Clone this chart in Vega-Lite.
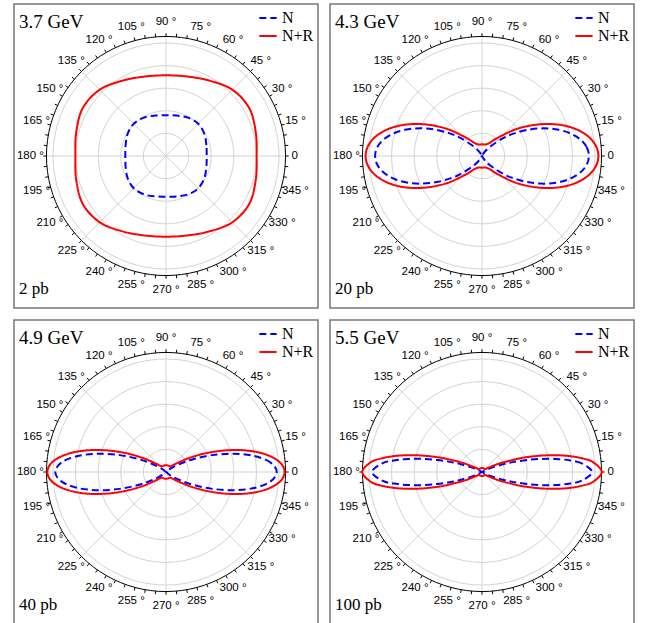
{
"$schema": "https://vega.github.io/schema/vega-lite/v6.json",
"padding": {"left": 13, "top": 3, "right": 0, "bottom": 0},
"config": {"view": {"stroke": "#777777", "strokeWidth": 1.5}, "font": "Liberation Sans"},
"datasets": {
"rings": [
{"ring":1,"x":1,"y":0},{"ring":1,"x":0.966,"y":0.259},{"ring":1,"x":0.866,"y":0.5},{"ring":1,"x":0.707,"y":0.707},{"ring":1,"x":0.5,"y":0.866},{"ring":1,"x":0.259,"y":0.966},{"ring":1,"x":0,"y":1},{"ring":1,"x":-0.259,"y":0.966},{"ring":1,"x":-0.5,"y":0.866},{"ring":1,"x":-0.707,"y":0.707},{"ring":1,"x":-0.866,"y":0.5},{"ring":1,"x":-0.966,"y":0.259},{"ring":1,"x":-1,"y":0},{"ring":1,"x":-0.966,"y":-0.259},{"ring":1,"x":-0.866,"y":-0.5},{"ring":1,"x":-0.707,"y":-0.707},{"ring":1,"x":-0.5,"y":-0.866},{"ring":1,"x":-0.259,"y":-0.966},{"ring":1,"x":0,"y":-1},{"ring":1,"x":0.259,"y":-0.966},{"ring":1,"x":0.5,"y":-0.866},{"ring":1,"x":0.707,"y":-0.707},{"ring":1,"x":0.866,"y":-0.5},{"ring":1,"x":0.966,"y":-0.259},
{"ring":2,"x":2,"y":0},{"ring":2,"x":1.932,"y":0.518},{"ring":2,"x":1.732,"y":1},{"ring":2,"x":1.414,"y":1.414},{"ring":2,"x":1,"y":1.732},{"ring":2,"x":0.518,"y":1.932},{"ring":2,"x":0,"y":2},{"ring":2,"x":-0.518,"y":1.932},{"ring":2,"x":-1,"y":1.732},{"ring":2,"x":-1.414,"y":1.414},{"ring":2,"x":-1.732,"y":1},{"ring":2,"x":-1.932,"y":0.518},{"ring":2,"x":-2,"y":0},{"ring":2,"x":-1.932,"y":-0.518},{"ring":2,"x":-1.732,"y":-1},{"ring":2,"x":-1.414,"y":-1.414},{"ring":2,"x":-1,"y":-1.732},{"ring":2,"x":-0.518,"y":-1.932},{"ring":2,"x":0,"y":-2},{"ring":2,"x":0.518,"y":-1.932},{"ring":2,"x":1,"y":-1.732},{"ring":2,"x":1.414,"y":-1.414},{"ring":2,"x":1.732,"y":-1},{"ring":2,"x":1.932,"y":-0.518},
{"ring":3,"x":3,"y":0},{"ring":3,"x":2.898,"y":0.776},{"ring":3,"x":2.598,"y":1.5},{"ring":3,"x":2.121,"y":2.121},{"ring":3,"x":1.5,"y":2.598},{"ring":3,"x":0.776,"y":2.898},{"ring":3,"x":0,"y":3},{"ring":3,"x":-0.776,"y":2.898},{"ring":3,"x":-1.5,"y":2.598},{"ring":3,"x":-2.121,"y":2.121},{"ring":3,"x":-2.598,"y":1.5},{"ring":3,"x":-2.898,"y":0.776},{"ring":3,"x":-3,"y":0},{"ring":3,"x":-2.898,"y":-0.776},{"ring":3,"x":-2.598,"y":-1.5},{"ring":3,"x":-2.121,"y":-2.121},{"ring":3,"x":-1.5,"y":-2.598},{"ring":3,"x":-0.776,"y":-2.898},{"ring":3,"x":0,"y":-3},{"ring":3,"x":0.776,"y":-2.898},{"ring":3,"x":1.5,"y":-2.598},{"ring":3,"x":2.121,"y":-2.121},{"ring":3,"x":2.598,"y":-1.5},{"ring":3,"x":2.898,"y":-0.776},
{"ring":4,"x":4,"y":0},{"ring":4,"x":3.864,"y":1.035},{"ring":4,"x":3.464,"y":2},{"ring":4,"x":2.828,"y":2.828},{"ring":4,"x":2,"y":3.464},{"ring":4,"x":1.035,"y":3.864},{"ring":4,"x":0,"y":4},{"ring":4,"x":-1.035,"y":3.864},{"ring":4,"x":-2,"y":3.464},{"ring":4,"x":-2.828,"y":2.828},{"ring":4,"x":-3.464,"y":2},{"ring":4,"x":-3.864,"y":1.035},{"ring":4,"x":-4,"y":0},{"ring":4,"x":-3.864,"y":-1.035},{"ring":4,"x":-3.464,"y":-2},{"ring":4,"x":-2.828,"y":-2.828},{"ring":4,"x":-2,"y":-3.464},{"ring":4,"x":-1.035,"y":-3.864},{"ring":4,"x":0,"y":-4},{"ring":4,"x":1.035,"y":-3.864},{"ring":4,"x":2,"y":-3.464},{"ring":4,"x":2.828,"y":-2.828},{"ring":4,"x":3.464,"y":-2},{"ring":4,"x":3.864,"y":-1.035},
{"ring":5,"x":5,"y":0},{"ring":5,"x":4.83,"y":1.294},{"ring":5,"x":4.33,"y":2.5},{"ring":5,"x":3.536,"y":3.536},{"ring":5,"x":2.5,"y":4.33},{"ring":5,"x":1.294,"y":4.83},{"ring":5,"x":0,"y":5},{"ring":5,"x":-1.294,"y":4.83},{"ring":5,"x":-2.5,"y":4.33},{"ring":5,"x":-3.536,"y":3.536},{"ring":5,"x":-4.33,"y":2.5},{"ring":5,"x":-4.83,"y":1.294},{"ring":5,"x":-5,"y":0},{"ring":5,"x":-4.83,"y":-1.294},{"ring":5,"x":-4.33,"y":-2.5},{"ring":5,"x":-3.536,"y":-3.536},{"ring":5,"x":-2.5,"y":-4.33},{"ring":5,"x":-1.294,"y":-4.83},{"ring":5,"x":0,"y":-5},{"ring":5,"x":1.294,"y":-4.83},{"ring":5,"x":2.5,"y":-4.33},{"ring":5,"x":3.536,"y":-3.536},{"ring":5,"x":4.33,"y":-2.5},{"ring":5,"x":4.83,"y":-1.294}
],
"outer": [{"x":5.29,"y":0},{"x":5.11,"y":1.369},{"x":4.581,"y":2.645},{"x":3.741,"y":3.741},{"x":2.645,"y":4.581},{"x":1.369,"y":5.11},{"x":0,"y":5.29},{"x":-1.369,"y":5.11},{"x":-2.645,"y":4.581},{"x":-3.741,"y":3.741},{"x":-4.581,"y":2.645},{"x":-5.11,"y":1.369},{"x":-5.29,"y":0},{"x":-5.11,"y":-1.369},{"x":-4.581,"y":-2.645},{"x":-3.741,"y":-3.741},{"x":-2.645,"y":-4.581},{"x":-1.369,"y":-5.11},{"x":0,"y":-5.29},{"x":1.369,"y":-5.11},{"x":2.645,"y":-4.581},{"x":3.741,"y":-3.741},{"x":4.581,"y":-2.645},{"x":5.11,"y":-1.369}],
"spokes": [{"x":-5.29,"y":0,"x2":5.29,"y2":0},{"x":0,"y":-5.29,"x2":0,"y2":5.29},{"x":-3.741,"y":-3.741,"x2":3.741,"y2":3.741},{"x":-3.741,"y":3.741,"x2":3.741,"y2":-3.741}],
"ticks": [
{"x":5.29,"y":0,"x2":5.43,"y2":0},{"x":5.27,"y":0.461,"x2":5.409,"y2":0.473},{"x":5.21,"y":0.919,"x2":5.348,"y2":0.943},{"x":5.11,"y":1.369,"x2":5.245,"y2":1.405},{"x":4.971,"y":1.809,"x2":5.103,"y2":1.857},{"x":4.794,"y":2.236,"x2":4.921,"y2":2.295},{"x":4.581,"y":2.645,"x2":4.703,"y2":2.715},{"x":4.333,"y":3.034,"x2":4.448,"y2":3.115},{"x":4.052,"y":3.4,"x2":4.16,"y2":3.49},{"x":3.741,"y":3.741,"x2":3.84,"y2":3.84},{"x":3.4,"y":4.052,"x2":3.49,"y2":4.16},{"x":3.034,"y":4.333,"x2":3.115,"y2":4.448},{"x":2.645,"y":4.581,"x2":2.715,"y2":4.703},{"x":2.236,"y":4.794,"x2":2.295,"y2":4.921},{"x":1.809,"y":4.971,"x2":1.857,"y2":5.103},{"x":1.369,"y":5.11,"x2":1.405,"y2":5.245},{"x":0.919,"y":5.21,"x2":0.943,"y2":5.348},{"x":0.461,"y":5.27,"x2":0.473,"y2":5.409},
{"x":0,"y":5.29,"x2":0,"y2":5.43},{"x":-0.461,"y":5.27,"x2":-0.473,"y2":5.409},{"x":-0.919,"y":5.21,"x2":-0.943,"y2":5.348},{"x":-1.369,"y":5.11,"x2":-1.405,"y2":5.245},{"x":-1.809,"y":4.971,"x2":-1.857,"y2":5.103},{"x":-2.236,"y":4.794,"x2":-2.295,"y2":4.921},{"x":-2.645,"y":4.581,"x2":-2.715,"y2":4.703},{"x":-3.034,"y":4.333,"x2":-3.115,"y2":4.448},{"x":-3.4,"y":4.052,"x2":-3.49,"y2":4.16},{"x":-3.741,"y":3.741,"x2":-3.84,"y2":3.84},{"x":-4.052,"y":3.4,"x2":-4.16,"y2":3.49},{"x":-4.333,"y":3.034,"x2":-4.448,"y2":3.115},{"x":-4.581,"y":2.645,"x2":-4.703,"y2":2.715},{"x":-4.794,"y":2.236,"x2":-4.921,"y2":2.295},{"x":-4.971,"y":1.809,"x2":-5.103,"y2":1.857},{"x":-5.11,"y":1.369,"x2":-5.245,"y2":1.405},{"x":-5.21,"y":0.919,"x2":-5.348,"y2":0.943},{"x":-5.27,"y":0.461,"x2":-5.409,"y2":0.473},
{"x":-5.29,"y":0,"x2":-5.43,"y2":0},{"x":-5.27,"y":-0.461,"x2":-5.409,"y2":-0.473},{"x":-5.21,"y":-0.919,"x2":-5.348,"y2":-0.943},{"x":-5.11,"y":-1.369,"x2":-5.245,"y2":-1.405},{"x":-4.971,"y":-1.809,"x2":-5.103,"y2":-1.857},{"x":-4.794,"y":-2.236,"x2":-4.921,"y2":-2.295},{"x":-4.581,"y":-2.645,"x2":-4.703,"y2":-2.715},{"x":-4.333,"y":-3.034,"x2":-4.448,"y2":-3.115},{"x":-4.052,"y":-3.4,"x2":-4.16,"y2":-3.49},{"x":-3.741,"y":-3.741,"x2":-3.84,"y2":-3.84},{"x":-3.4,"y":-4.052,"x2":-3.49,"y2":-4.16},{"x":-3.034,"y":-4.333,"x2":-3.115,"y2":-4.448},{"x":-2.645,"y":-4.581,"x2":-2.715,"y2":-4.703},{"x":-2.236,"y":-4.794,"x2":-2.295,"y2":-4.921},{"x":-1.809,"y":-4.971,"x2":-1.857,"y2":-5.103},{"x":-1.369,"y":-5.11,"x2":-1.405,"y2":-5.245},{"x":-0.919,"y":-5.21,"x2":-0.943,"y2":-5.348},{"x":-0.461,"y":-5.27,"x2":-0.473,"y2":-5.409},
{"x":0,"y":-5.29,"x2":0,"y2":-5.43},{"x":0.461,"y":-5.27,"x2":0.473,"y2":-5.409},{"x":0.919,"y":-5.21,"x2":0.943,"y2":-5.348},{"x":1.369,"y":-5.11,"x2":1.405,"y2":-5.245},{"x":1.809,"y":-4.971,"x2":1.857,"y2":-5.103},{"x":2.236,"y":-4.794,"x2":2.295,"y2":-4.921},{"x":2.645,"y":-4.581,"x2":2.715,"y2":-4.703},{"x":3.034,"y":-4.333,"x2":3.115,"y2":-4.448},{"x":3.4,"y":-4.052,"x2":3.49,"y2":-4.16},{"x":3.741,"y":-3.741,"x2":3.84,"y2":-3.84},{"x":4.052,"y":-3.4,"x2":4.16,"y2":-3.49},{"x":4.333,"y":-3.034,"x2":4.448,"y2":-3.115},{"x":4.581,"y":-2.645,"x2":4.703,"y2":-2.715},{"x":4.794,"y":-2.236,"x2":4.921,"y2":-2.295},{"x":4.971,"y":-1.809,"x2":5.103,"y2":-1.857},{"x":5.11,"y":-1.369,"x2":5.245,"y2":-1.405},{"x":5.21,"y":-0.919,"x2":5.348,"y2":-0.943},{"x":5.27,"y":-0.461,"x2":5.409,"y2":-0.473}
],
"labels": [{"label":"0","x":5.7,"y":0},{"label":"15 °","x":5.728,"y":1.535},{"label":"30 °","x":5.136,"y":2.965},{"label":"45 °","x":4.193,"y":4.193},{"label":"60 °","x":2.965,"y":5.136},{"label":"75 °","x":1.535,"y":5.728},{"label":"90 °","x":0,"y":5.93},{"label":"105 °","x":-1.535,"y":5.728},{"label":"120 °","x":-2.965,"y":5.136},{"label":"135 °","x":-4.193,"y":4.193},{"label":"150 °","x":-5.136,"y":2.965},{"label":"165 °","x":-5.728,"y":1.535},{"label":"180 °","x":-6.0,"y":0},{"label":"195 °","x":-5.728,"y":-1.535},{"label":"210 °","x":-5.136,"y":-2.965},{"label":"225 °","x":-4.193,"y":-4.193},{"label":"240 °","x":-2.965,"y":-5.136},{"label":"255 °","x":-1.535,"y":-5.728},{"label":"270 °","x":0,"y":-5.93},{"label":"285 °","x":1.535,"y":-5.728},{"label":"300 °","x":2.965,"y":-5.136},{"label":"315 °","x":4.193,"y":-4.193},{"label":"330 °","x":5.136,"y":-2.965},{"label":"345 °","x":5.728,"y":-1.535}],
"c1": [
{"series":"N","x":1.8,"y":0},{"series":"N","x":1.787,"y":0.479},{"series":"N","x":1.697,"y":0.98},{"series":"N","x":1.428,"y":1.428},{"series":"N","x":0.98,"y":1.697},{"series":"N","x":0.479,"y":1.787},{"series":"N","x":0,"y":1.8},{"series":"N","x":-0.479,"y":1.787},{"series":"N","x":-0.98,"y":1.697},{"series":"N","x":-1.428,"y":1.428},{"series":"N","x":-1.697,"y":0.98},{"series":"N","x":-1.787,"y":0.479},{"series":"N","x":-1.8,"y":0},{"series":"N","x":-1.787,"y":-0.479},{"series":"N","x":-1.697,"y":-0.98},{"series":"N","x":-1.428,"y":-1.428},{"series":"N","x":-0.98,"y":-1.697},{"series":"N","x":-0.479,"y":-1.787},{"series":"N","x":0,"y":-1.8},{"series":"N","x":0.479,"y":-1.787},{"series":"N","x":0.98,"y":-1.697},{"series":"N","x":1.428,"y":-1.428},{"series":"N","x":1.697,"y":-0.98},{"series":"N","x":1.787,"y":-0.479},
{"series":"N+R","x":4.01,"y":0},{"series":"N+R","x":3.97,"y":1.064},{"series":"N+R","x":3.681,"y":2.125},{"series":"N+R","x":2.934,"y":2.934},{"series":"N+R","x":1.925,"y":3.334},{"series":"N+R","x":0.942,"y":3.516},{"series":"N+R","x":0,"y":3.57},{"series":"N+R","x":-0.942,"y":3.516},{"series":"N+R","x":-1.925,"y":3.334},{"series":"N+R","x":-2.934,"y":2.934},{"series":"N+R","x":-3.681,"y":2.125},{"series":"N+R","x":-3.97,"y":1.064},{"series":"N+R","x":-4.01,"y":0},{"series":"N+R","x":-3.97,"y":-1.064},{"series":"N+R","x":-3.681,"y":-2.125},{"series":"N+R","x":-2.934,"y":-2.934},{"series":"N+R","x":-1.925,"y":-3.334},{"series":"N+R","x":-0.942,"y":-3.516},{"series":"N+R","x":0,"y":-3.57},{"series":"N+R","x":0.942,"y":-3.516},{"series":"N+R","x":1.925,"y":-3.334},{"series":"N+R","x":2.934,"y":-2.934},{"series":"N+R","x":3.681,"y":-2.125},{"series":"N+R","x":3.97,"y":-1.064}
],
"c2": [
{"series":"N","x":4.73,"y":0},{"series":"N","x":4.623,"y":0.405},{"series":"N","x":4.314,"y":0.761},{"series":"N","x":3.842,"y":1.029},{"series":"N","x":3.257,"y":1.185},{"series":"N","x":2.621,"y":1.222},{"series":"N","x":1.995,"y":1.152},{"series":"N","x":1.429,"y":1.0},{"series":"N","x":0.956,"y":0.802},{"series":"N","x":0.334,"y":0.398},{"series":"N","x":0.074,"y":0.128},{"series":"N","x":0,"y":0},
{"series":"N","x":-0.074,"y":0.128},{"series":"N","x":-0.334,"y":0.398},{"series":"N","x":-0.956,"y":0.802},{"series":"N","x":-1.429,"y":1.0},{"series":"N","x":-1.995,"y":1.152},{"series":"N","x":-2.621,"y":1.222},{"series":"N","x":-3.257,"y":1.185},{"series":"N","x":-3.842,"y":1.029},{"series":"N","x":-4.314,"y":0.761},{"series":"N","x":-4.623,"y":0.405},{"series":"N","x":-4.73,"y":0},
{"series":"N","x":-4.623,"y":-0.405},{"series":"N","x":-4.314,"y":-0.761},{"series":"N","x":-3.842,"y":-1.029},{"series":"N","x":-3.257,"y":-1.185},{"series":"N","x":-2.621,"y":-1.222},{"series":"N","x":-1.995,"y":-1.152},{"series":"N","x":-1.429,"y":-1.0},{"series":"N","x":-0.956,"y":-0.802},{"series":"N","x":-0.334,"y":-0.398},{"series":"N","x":-0.074,"y":-0.128},{"series":"N","x":0,"y":0},
{"series":"N","x":0.074,"y":-0.128},{"series":"N","x":0.334,"y":-0.398},{"series":"N","x":0.956,"y":-0.802},{"series":"N","x":1.429,"y":-1.0},{"series":"N","x":1.995,"y":-1.152},{"series":"N","x":2.621,"y":-1.222},{"series":"N","x":3.257,"y":-1.185},{"series":"N","x":3.842,"y":-1.029},{"series":"N","x":4.314,"y":-0.761},{"series":"N","x":4.623,"y":-0.405},
{"series":"N+R","x":5.15,"y":0},{"series":"N+R","x":5.043,"y":0.441},{"series":"N+R","x":4.736,"y":0.835},{"series":"N+R","x":4.263,"y":1.142},{"series":"N+R","x":3.677,"y":1.338},{"series":"N+R","x":3.037,"y":1.416},{"series":"N+R","x":2.403,"y":1.388},{"series":"N+R","x":1.825,"y":1.278},{"series":"N+R","x":1.334,"y":1.119},{"series":"N+R","x":0.661,"y":0.787},{"series":"N+R","x":0.333,"y":0.576},{"series":"N+R","x":0.136,"y":0.507},{"series":"N+R","x":0,"y":0.52},
{"series":"N+R","x":-0.136,"y":0.507},{"series":"N+R","x":-0.333,"y":0.576},{"series":"N+R","x":-0.661,"y":0.787},{"series":"N+R","x":-1.334,"y":1.119},{"series":"N+R","x":-1.825,"y":1.278},{"series":"N+R","x":-2.403,"y":1.388},{"series":"N+R","x":-3.037,"y":1.416},{"series":"N+R","x":-3.677,"y":1.338},{"series":"N+R","x":-4.263,"y":1.142},{"series":"N+R","x":-4.736,"y":0.835},{"series":"N+R","x":-5.043,"y":0.441},{"series":"N+R","x":-5.15,"y":0},
{"series":"N+R","x":-5.043,"y":-0.441},{"series":"N+R","x":-4.736,"y":-0.835},{"series":"N+R","x":-4.263,"y":-1.142},{"series":"N+R","x":-3.677,"y":-1.338},{"series":"N+R","x":-3.037,"y":-1.416},{"series":"N+R","x":-2.403,"y":-1.388},{"series":"N+R","x":-1.825,"y":-1.278},{"series":"N+R","x":-1.334,"y":-1.119},{"series":"N+R","x":-0.661,"y":-0.787},{"series":"N+R","x":-0.333,"y":-0.576},{"series":"N+R","x":-0.136,"y":-0.507},{"series":"N+R","x":0,"y":-0.52},
{"series":"N+R","x":0.136,"y":-0.507},{"series":"N+R","x":0.333,"y":-0.576},{"series":"N+R","x":0.661,"y":-0.787},{"series":"N+R","x":1.334,"y":-1.119},{"series":"N+R","x":1.825,"y":-1.278},{"series":"N+R","x":2.403,"y":-1.388},{"series":"N+R","x":3.037,"y":-1.416},{"series":"N+R","x":3.677,"y":-1.338},{"series":"N+R","x":4.263,"y":-1.142},{"series":"N+R","x":4.736,"y":-0.835},{"series":"N+R","x":5.043,"y":-0.441}
],
"c3": [
{"series":"N","x":4.9,"y":0},{"series":"N","x":4.645,"y":0.406},{"series":"N","x":3.955,"y":0.697},{"series":"N","x":3.016,"y":0.808},{"series":"N","x":2.051,"y":0.747},{"series":"N","x":1.236,"y":0.576},{"series":"N","x":0.654,"y":0.378},{"series":"N","x":0.3,"y":0.21},{"series":"N","x":0.117,"y":0.098},{"series":"N","x":0,"y":0},
{"series":"N","x":-0.117,"y":0.098},{"series":"N","x":-0.3,"y":0.21},{"series":"N","x":-0.654,"y":0.378},{"series":"N","x":-1.236,"y":0.576},{"series":"N","x":-2.051,"y":0.747},{"series":"N","x":-3.016,"y":0.808},{"series":"N","x":-3.955,"y":0.697},{"series":"N","x":-4.645,"y":0.406},{"series":"N","x":-4.9,"y":0},
{"series":"N","x":-4.645,"y":-0.406},{"series":"N","x":-3.955,"y":-0.697},{"series":"N","x":-3.016,"y":-0.808},{"series":"N","x":-2.051,"y":-0.747},{"series":"N","x":-1.236,"y":-0.576},{"series":"N","x":-0.654,"y":-0.378},{"series":"N","x":-0.3,"y":-0.21},{"series":"N","x":-0.117,"y":-0.098},{"series":"N","x":0,"y":0},
{"series":"N","x":0.117,"y":-0.098},{"series":"N","x":0.3,"y":-0.21},{"series":"N","x":0.654,"y":-0.378},{"series":"N","x":1.236,"y":-0.576},{"series":"N","x":2.051,"y":-0.747},{"series":"N","x":3.016,"y":-0.808},{"series":"N","x":3.955,"y":-0.697},{"series":"N","x":4.645,"y":-0.406},
{"series":"N+R","x":5.25,"y":0},{"series":"N+R","x":5.027,"y":0.44},{"series":"N+R","x":4.415,"y":0.778},{"series":"N+R","x":3.556,"y":0.953},{"series":"N+R","x":2.628,"y":0.957},{"series":"N+R","x":1.792,"y":0.836},{"series":"N+R","x":1.141,"y":0.659},{"series":"N+R","x":0.697,"y":0.488},{"series":"N+R","x":0.432,"y":0.363},{"series":"N+R","x":0.217,"y":0.259},{"series":"N+R","x":0.15,"y":0.26},{"series":"N+R","x":0.078,"y":0.29},{"series":"N+R","x":0,"y":0.3},
{"series":"N+R","x":-0.078,"y":0.29},{"series":"N+R","x":-0.15,"y":0.26},{"series":"N+R","x":-0.217,"y":0.259},{"series":"N+R","x":-0.432,"y":0.363},{"series":"N+R","x":-0.697,"y":0.488},{"series":"N+R","x":-1.141,"y":0.659},{"series":"N+R","x":-1.792,"y":0.836},{"series":"N+R","x":-2.628,"y":0.957},{"series":"N+R","x":-3.556,"y":0.953},{"series":"N+R","x":-4.415,"y":0.778},{"series":"N+R","x":-5.027,"y":0.44},{"series":"N+R","x":-5.25,"y":0},
{"series":"N+R","x":-5.027,"y":-0.44},{"series":"N+R","x":-4.415,"y":-0.778},{"series":"N+R","x":-3.556,"y":-0.953},{"series":"N+R","x":-2.628,"y":-0.957},{"series":"N+R","x":-1.792,"y":-0.836},{"series":"N+R","x":-1.141,"y":-0.659},{"series":"N+R","x":-0.697,"y":-0.488},{"series":"N+R","x":-0.432,"y":-0.363},{"series":"N+R","x":-0.217,"y":-0.259},{"series":"N+R","x":-0.15,"y":-0.26},{"series":"N+R","x":-0.078,"y":-0.29},{"series":"N+R","x":0,"y":-0.3},
{"series":"N+R","x":0.078,"y":-0.29},{"series":"N+R","x":0.15,"y":-0.26},{"series":"N+R","x":0.217,"y":-0.259},{"series":"N+R","x":0.432,"y":-0.363},{"series":"N+R","x":0.697,"y":-0.488},{"series":"N+R","x":1.141,"y":-0.659},{"series":"N+R","x":1.792,"y":-0.836},{"series":"N+R","x":2.628,"y":-0.957},{"series":"N+R","x":3.556,"y":-0.953},{"series":"N+R","x":4.415,"y":-0.778},{"series":"N+R","x":5.027,"y":-0.44}
],
"c4": [
{"series":"N","x":4.87,"y":0},{"series":"N","x":4.41,"y":0.386},{"series":"N","x":3.894,"y":0.513},{"series":"N","x":3.271,"y":0.577},{"series":"N","x":2.611,"y":0.579},{"series":"N","x":1.977,"y":0.53},{"series":"N","x":1.421,"y":0.448},{"series":"N","x":0.967,"y":0.352},{"series":"N","x":0.377,"y":0.176},{"series":"N","x":0.116,"y":0.067},{"series":"N","x":0,"y":0},
{"series":"N","x":-0.116,"y":0.067},{"series":"N","x":-0.377,"y":0.176},{"series":"N","x":-0.967,"y":0.352},{"series":"N","x":-1.421,"y":0.448},{"series":"N","x":-1.977,"y":0.53},{"series":"N","x":-2.611,"y":0.579},{"series":"N","x":-3.271,"y":0.577},{"series":"N","x":-3.894,"y":0.513},{"series":"N","x":-4.41,"y":0.386},{"series":"N","x":-4.87,"y":0},
{"series":"N","x":-4.41,"y":-0.386},{"series":"N","x":-3.894,"y":-0.513},{"series":"N","x":-3.271,"y":-0.577},{"series":"N","x":-2.611,"y":-0.579},{"series":"N","x":-1.977,"y":-0.53},{"series":"N","x":-1.421,"y":-0.448},{"series":"N","x":-0.967,"y":-0.352},{"series":"N","x":-0.377,"y":-0.176},{"series":"N","x":-0.116,"y":-0.067},{"series":"N","x":0,"y":0},
{"series":"N","x":0.116,"y":-0.067},{"series":"N","x":0.377,"y":-0.176},{"series":"N","x":0.967,"y":-0.352},{"series":"N","x":1.421,"y":-0.448},{"series":"N","x":1.977,"y":-0.53},{"series":"N","x":2.611,"y":-0.579},{"series":"N","x":3.271,"y":-0.577},{"series":"N","x":3.894,"y":-0.513},{"series":"N","x":4.41,"y":-0.386},
{"series":"N+R","x":5.3,"y":0},{"series":"N+R","x":4.923,"y":0.431},{"series":"N+R","x":4.489,"y":0.591},{"series":"N+R","x":3.947,"y":0.696},{"series":"N+R","x":3.345,"y":0.742},{"series":"N+R","x":2.734,"y":0.732},{"series":"N+R","x":2.156,"y":0.68},{"series":"N+R","x":1.644,"y":0.599},{"series":"N+R","x":0.879,"y":0.41},{"series":"N+R","x":0.444,"y":0.257},{"series":"N+R","x":0.242,"y":0.17},{"series":"N+R","x":0.162,"y":0.136},{"series":"N+R","x":0.116,"y":0.138},{"series":"N+R","x":0.047,"y":0.174},{"series":"N+R","x":0,"y":0.18},
{"series":"N+R","x":-0.047,"y":0.174},{"series":"N+R","x":-0.116,"y":0.138},{"series":"N+R","x":-0.162,"y":0.136},{"series":"N+R","x":-0.242,"y":0.17},{"series":"N+R","x":-0.444,"y":0.257},{"series":"N+R","x":-0.879,"y":0.41},{"series":"N+R","x":-1.644,"y":0.599},{"series":"N+R","x":-2.156,"y":0.68},{"series":"N+R","x":-2.734,"y":0.732},{"series":"N+R","x":-3.345,"y":0.742},{"series":"N+R","x":-3.947,"y":0.696},{"series":"N+R","x":-4.489,"y":0.591},{"series":"N+R","x":-4.923,"y":0.431},{"series":"N+R","x":-5.3,"y":0},
{"series":"N+R","x":-4.923,"y":-0.431},{"series":"N+R","x":-4.489,"y":-0.591},{"series":"N+R","x":-3.947,"y":-0.696},{"series":"N+R","x":-3.345,"y":-0.742},{"series":"N+R","x":-2.734,"y":-0.732},{"series":"N+R","x":-2.156,"y":-0.68},{"series":"N+R","x":-1.644,"y":-0.599},{"series":"N+R","x":-0.879,"y":-0.41},{"series":"N+R","x":-0.444,"y":-0.257},{"series":"N+R","x":-0.242,"y":-0.17},{"series":"N+R","x":-0.162,"y":-0.136},{"series":"N+R","x":-0.116,"y":-0.138},{"series":"N+R","x":-0.047,"y":-0.174},{"series":"N+R","x":0,"y":-0.18},
{"series":"N+R","x":0.047,"y":-0.174},{"series":"N+R","x":0.116,"y":-0.138},{"series":"N+R","x":0.162,"y":-0.136},{"series":"N+R","x":0.242,"y":-0.17},{"series":"N+R","x":0.444,"y":-0.257},{"series":"N+R","x":0.879,"y":-0.41},{"series":"N+R","x":1.644,"y":-0.599},{"series":"N+R","x":2.156,"y":-0.68},{"series":"N+R","x":2.734,"y":-0.732},{"series":"N+R","x":3.345,"y":-0.742},{"series":"N+R","x":3.947,"y":-0.696},{"series":"N+R","x":4.489,"y":-0.591},{"series":"N+R","x":4.923,"y":-0.431}
]
},
"columns": 2,
"spacing": {"row": 10, "column": 10},
"resolve": {"scale": {"color": "independent", "strokeDash": "independent"}, "legend": {"color": "independent", "strokeDash": "independent"}},
"concat": [
{"width": 304, "height": 304, "layer": [
{"data": {"name": "rings"}, "mark": {"type": "line", "interpolate": "cardinal-closed", "stroke": "#d3d3d3", "strokeWidth": 1}, "encoding": {"x": {"field": "x", "type": "quantitative", "axis": null, "scale": {"domain": [-6.726, 6.726], "nice": false, "zero": false}}, "y": {"field": "y", "type": "quantitative", "axis": null, "scale": {"domain": [-6.726, 6.726], "nice": false, "zero": false}}, "detail": {"field": "ring", "type": "nominal"}, "order": {"value": null}}},
{"data": {"name": "spokes"}, "mark": {"type": "rule", "stroke": "#d3d3d3", "strokeWidth": 1}, "encoding": {"x": {"field": "x", "type": "quantitative"}, "y": {"field": "y", "type": "quantitative"}, "x2": {"field": "x2"}, "y2": {"field": "y2"}}},
{"data": {"name": "outer"}, "mark": {"type": "line", "interpolate": "cardinal-closed", "stroke": "#000000", "strokeWidth": 1}, "encoding": {"x": {"field": "x", "type": "quantitative"}, "y": {"field": "y", "type": "quantitative"}, "order": {"value": null}}},
{"data": {"name": "ticks"}, "mark": {"type": "rule", "stroke": "#000000", "strokeWidth": 1}, "encoding": {"x": {"field": "x", "type": "quantitative"}, "y": {"field": "y", "type": "quantitative"}, "x2": {"field": "x2"}, "y2": {"field": "y2"}}},
{"data": {"name": "labels"}, "mark": {"type": "text", "font": "Liberation Sans", "fontSize": 11.5, "align": "center", "baseline": "middle", "color": "#000000"}, "encoding": {"x": {"field": "x", "type": "quantitative"}, "y": {"field": "y", "type": "quantitative"}, "text": {"field": "label"}}},
{"data": {"name": "c1"}, "mark": {"type": "line", "interpolate": "cardinal-closed", "strokeWidth": 2}, "encoding": {"x": {"field": "x", "type": "quantitative"}, "y": {"field": "y", "type": "quantitative"}, "color": {"field": "series", "type": "nominal", "scale": {"domain": ["N", "N+R"], "range": ["#0000ff", "#ff0000"]}, "legend": {"title": null, "orient": "top-right", "offset": 4, "padding": 0, "rowPadding": 0, "labelFont": "Liberation Serif", "labelFontSize": 16, "labelColor": "#000000", "labelOffset": 4, "symbolType": "stroke", "symbolSize": 300, "symbolStrokeWidth": 2}}, "strokeDash": {"field": "series", "type": "nominal", "scale": {"domain": ["N", "N+R"], "range": [[7, 4], [1, 0]]}, "legend": {"title": null, "orient": "top-right", "offset": 4, "padding": 0, "rowPadding": 0, "labelFont": "Liberation Serif", "labelFontSize": 16, "labelColor": "#000000", "labelOffset": 4, "symbolType": "stroke", "symbolSize": 300, "symbolStrokeWidth": 2}}, "order": {"value": null}}},
{"data": {"values": [{"t": "3.7 GeV", "l": "2 pb"}]}, "mark": {"type": "text", "font": "Liberation Serif", "fontSize": 19, "align": "left", "baseline": "alphabetic", "color": "#000000"}, "encoding": {"x": {"datum": -6.505, "type": "quantitative"}, "y": {"datum": 5.664, "type": "quantitative"}, "text": {"field": "t"}}},
{"data": {"values": [{"t": "3.7 GeV", "l": "2 pb"}]}, "mark": {"type": "text", "font": "Liberation Serif", "fontSize": 17, "align": "left", "baseline": "alphabetic", "color": "#000000"}, "encoding": {"x": {"datum": -6.505, "type": "quantitative"}, "y": {"datum": -6.119, "type": "quantitative"}, "text": {"field": "l"}}}
]},
{"width": 304, "height": 304, "layer": [
{"data": {"name": "rings"}, "mark": {"type": "line", "interpolate": "cardinal-closed", "stroke": "#d3d3d3", "strokeWidth": 1}, "encoding": {"x": {"field": "x", "type": "quantitative", "axis": null, "scale": {"domain": [-6.726, 6.726], "nice": false, "zero": false}}, "y": {"field": "y", "type": "quantitative", "axis": null, "scale": {"domain": [-6.726, 6.726], "nice": false, "zero": false}}, "detail": {"field": "ring", "type": "nominal"}, "order": {"value": null}}},
{"data": {"name": "spokes"}, "mark": {"type": "rule", "stroke": "#d3d3d3", "strokeWidth": 1}, "encoding": {"x": {"field": "x", "type": "quantitative"}, "y": {"field": "y", "type": "quantitative"}, "x2": {"field": "x2"}, "y2": {"field": "y2"}}},
{"data": {"name": "outer"}, "mark": {"type": "line", "interpolate": "cardinal-closed", "stroke": "#000000", "strokeWidth": 1}, "encoding": {"x": {"field": "x", "type": "quantitative"}, "y": {"field": "y", "type": "quantitative"}, "order": {"value": null}}},
{"data": {"name": "ticks"}, "mark": {"type": "rule", "stroke": "#000000", "strokeWidth": 1}, "encoding": {"x": {"field": "x", "type": "quantitative"}, "y": {"field": "y", "type": "quantitative"}, "x2": {"field": "x2"}, "y2": {"field": "y2"}}},
{"data": {"name": "labels"}, "mark": {"type": "text", "font": "Liberation Sans", "fontSize": 11.5, "align": "center", "baseline": "middle", "color": "#000000"}, "encoding": {"x": {"field": "x", "type": "quantitative"}, "y": {"field": "y", "type": "quantitative"}, "text": {"field": "label"}}},
{"data": {"name": "c2"}, "mark": {"type": "line", "interpolate": "cardinal-closed", "strokeWidth": 2}, "encoding": {"x": {"field": "x", "type": "quantitative"}, "y": {"field": "y", "type": "quantitative"}, "color": {"field": "series", "type": "nominal", "scale": {"domain": ["N", "N+R"], "range": ["#0000ff", "#ff0000"]}, "legend": {"title": null, "orient": "top-right", "offset": 4, "padding": 0, "rowPadding": 0, "labelFont": "Liberation Serif", "labelFontSize": 16, "labelColor": "#000000", "labelOffset": 4, "symbolType": "stroke", "symbolSize": 300, "symbolStrokeWidth": 2}}, "strokeDash": {"field": "series", "type": "nominal", "scale": {"domain": ["N", "N+R"], "range": [[7, 4], [1, 0]]}, "legend": {"title": null, "orient": "top-right", "offset": 4, "padding": 0, "rowPadding": 0, "labelFont": "Liberation Serif", "labelFontSize": 16, "labelColor": "#000000", "labelOffset": 4, "symbolType": "stroke", "symbolSize": 300, "symbolStrokeWidth": 2}}, "order": {"value": null}}},
{"data": {"values": [{"t": "4.3 GeV", "l": "20 pb"}]}, "mark": {"type": "text", "font": "Liberation Serif", "fontSize": 19, "align": "left", "baseline": "alphabetic", "color": "#000000"}, "encoding": {"x": {"datum": -6.505, "type": "quantitative"}, "y": {"datum": 5.664, "type": "quantitative"}, "text": {"field": "t"}}},
{"data": {"values": [{"t": "4.3 GeV", "l": "20 pb"}]}, "mark": {"type": "text", "font": "Liberation Serif", "fontSize": 17, "align": "left", "baseline": "alphabetic", "color": "#000000"}, "encoding": {"x": {"datum": -6.505, "type": "quantitative"}, "y": {"datum": -6.119, "type": "quantitative"}, "text": {"field": "l"}}}
]},
{"width": 304, "height": 304, "layer": [
{"data": {"name": "rings"}, "mark": {"type": "line", "interpolate": "cardinal-closed", "stroke": "#d3d3d3", "strokeWidth": 1}, "encoding": {"x": {"field": "x", "type": "quantitative", "axis": null, "scale": {"domain": [-6.726, 6.726], "nice": false, "zero": false}}, "y": {"field": "y", "type": "quantitative", "axis": null, "scale": {"domain": [-6.726, 6.726], "nice": false, "zero": false}}, "detail": {"field": "ring", "type": "nominal"}, "order": {"value": null}}},
{"data": {"name": "spokes"}, "mark": {"type": "rule", "stroke": "#d3d3d3", "strokeWidth": 1}, "encoding": {"x": {"field": "x", "type": "quantitative"}, "y": {"field": "y", "type": "quantitative"}, "x2": {"field": "x2"}, "y2": {"field": "y2"}}},
{"data": {"name": "outer"}, "mark": {"type": "line", "interpolate": "cardinal-closed", "stroke": "#000000", "strokeWidth": 1}, "encoding": {"x": {"field": "x", "type": "quantitative"}, "y": {"field": "y", "type": "quantitative"}, "order": {"value": null}}},
{"data": {"name": "ticks"}, "mark": {"type": "rule", "stroke": "#000000", "strokeWidth": 1}, "encoding": {"x": {"field": "x", "type": "quantitative"}, "y": {"field": "y", "type": "quantitative"}, "x2": {"field": "x2"}, "y2": {"field": "y2"}}},
{"data": {"name": "labels"}, "mark": {"type": "text", "font": "Liberation Sans", "fontSize": 11.5, "align": "center", "baseline": "middle", "color": "#000000"}, "encoding": {"x": {"field": "x", "type": "quantitative"}, "y": {"field": "y", "type": "quantitative"}, "text": {"field": "label"}}},
{"data": {"name": "c3"}, "mark": {"type": "line", "interpolate": "cardinal-closed", "strokeWidth": 2}, "encoding": {"x": {"field": "x", "type": "quantitative"}, "y": {"field": "y", "type": "quantitative"}, "color": {"field": "series", "type": "nominal", "scale": {"domain": ["N", "N+R"], "range": ["#0000ff", "#ff0000"]}, "legend": {"title": null, "orient": "top-right", "offset": 4, "padding": 0, "rowPadding": 0, "labelFont": "Liberation Serif", "labelFontSize": 16, "labelColor": "#000000", "labelOffset": 4, "symbolType": "stroke", "symbolSize": 300, "symbolStrokeWidth": 2}}, "strokeDash": {"field": "series", "type": "nominal", "scale": {"domain": ["N", "N+R"], "range": [[7, 4], [1, 0]]}, "legend": {"title": null, "orient": "top-right", "offset": 4, "padding": 0, "rowPadding": 0, "labelFont": "Liberation Serif", "labelFontSize": 16, "labelColor": "#000000", "labelOffset": 4, "symbolType": "stroke", "symbolSize": 300, "symbolStrokeWidth": 2}}, "order": {"value": null}}},
{"data": {"values": [{"t": "4.9 GeV", "l": "40 pb"}]}, "mark": {"type": "text", "font": "Liberation Serif", "fontSize": 19, "align": "left", "baseline": "alphabetic", "color": "#000000"}, "encoding": {"x": {"datum": -6.505, "type": "quantitative"}, "y": {"datum": 5.664, "type": "quantitative"}, "text": {"field": "t"}}},
{"data": {"values": [{"t": "4.9 GeV", "l": "40 pb"}]}, "mark": {"type": "text", "font": "Liberation Serif", "fontSize": 17, "align": "left", "baseline": "alphabetic", "color": "#000000"}, "encoding": {"x": {"datum": -6.505, "type": "quantitative"}, "y": {"datum": -6.119, "type": "quantitative"}, "text": {"field": "l"}}}
]},
{"width": 304, "height": 304, "layer": [
{"data": {"name": "rings"}, "mark": {"type": "line", "interpolate": "cardinal-closed", "stroke": "#d3d3d3", "strokeWidth": 1}, "encoding": {"x": {"field": "x", "type": "quantitative", "axis": null, "scale": {"domain": [-6.726, 6.726], "nice": false, "zero": false}}, "y": {"field": "y", "type": "quantitative", "axis": null, "scale": {"domain": [-6.726, 6.726], "nice": false, "zero": false}}, "detail": {"field": "ring", "type": "nominal"}, "order": {"value": null}}},
{"data": {"name": "spokes"}, "mark": {"type": "rule", "stroke": "#d3d3d3", "strokeWidth": 1}, "encoding": {"x": {"field": "x", "type": "quantitative"}, "y": {"field": "y", "type": "quantitative"}, "x2": {"field": "x2"}, "y2": {"field": "y2"}}},
{"data": {"name": "outer"}, "mark": {"type": "line", "interpolate": "cardinal-closed", "stroke": "#000000", "strokeWidth": 1}, "encoding": {"x": {"field": "x", "type": "quantitative"}, "y": {"field": "y", "type": "quantitative"}, "order": {"value": null}}},
{"data": {"name": "ticks"}, "mark": {"type": "rule", "stroke": "#000000", "strokeWidth": 1}, "encoding": {"x": {"field": "x", "type": "quantitative"}, "y": {"field": "y", "type": "quantitative"}, "x2": {"field": "x2"}, "y2": {"field": "y2"}}},
{"data": {"name": "labels"}, "mark": {"type": "text", "font": "Liberation Sans", "fontSize": 11.5, "align": "center", "baseline": "middle", "color": "#000000"}, "encoding": {"x": {"field": "x", "type": "quantitative"}, "y": {"field": "y", "type": "quantitative"}, "text": {"field": "label"}}},
{"data": {"name": "c4"}, "mark": {"type": "line", "interpolate": "cardinal-closed", "strokeWidth": 2}, "encoding": {"x": {"field": "x", "type": "quantitative"}, "y": {"field": "y", "type": "quantitative"}, "color": {"field": "series", "type": "nominal", "scale": {"domain": ["N", "N+R"], "range": ["#0000ff", "#ff0000"]}, "legend": {"title": null, "orient": "top-right", "offset": 4, "padding": 0, "rowPadding": 0, "labelFont": "Liberation Serif", "labelFontSize": 16, "labelColor": "#000000", "labelOffset": 4, "symbolType": "stroke", "symbolSize": 300, "symbolStrokeWidth": 2}}, "strokeDash": {"field": "series", "type": "nominal", "scale": {"domain": ["N", "N+R"], "range": [[7, 4], [1, 0]]}, "legend": {"title": null, "orient": "top-right", "offset": 4, "padding": 0, "rowPadding": 0, "labelFont": "Liberation Serif", "labelFontSize": 16, "labelColor": "#000000", "labelOffset": 4, "symbolType": "stroke", "symbolSize": 300, "symbolStrokeWidth": 2}}, "order": {"value": null}}},
{"data": {"values": [{"t": "5.5 GeV", "l": "100 pb"}]}, "mark": {"type": "text", "font": "Liberation Serif", "fontSize": 19, "align": "left", "baseline": "alphabetic", "color": "#000000"}, "encoding": {"x": {"datum": -6.505, "type": "quantitative"}, "y": {"datum": 5.664, "type": "quantitative"}, "text": {"field": "t"}}},
{"data": {"values": [{"t": "5.5 GeV", "l": "100 pb"}]}, "mark": {"type": "text", "font": "Liberation Serif", "fontSize": 17, "align": "left", "baseline": "alphabetic", "color": "#000000"}, "encoding": {"x": {"datum": -6.505, "type": "quantitative"}, "y": {"datum": -6.119, "type": "quantitative"}, "text": {"field": "l"}}}
]}
]
}
